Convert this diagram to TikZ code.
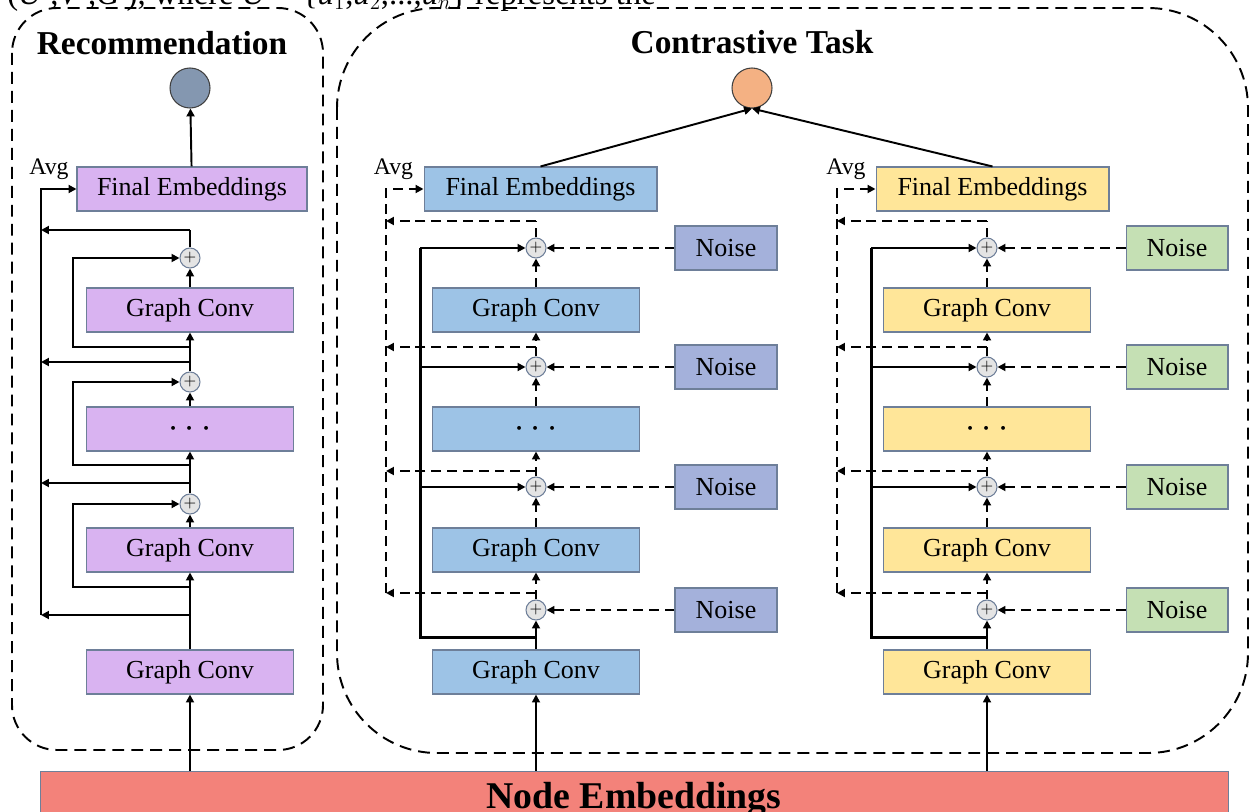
\documentclass[tikz,border=0pt]{standalone}
\usepackage{fontspec}
\setmainfont{Liberation Serif}
\usetikzlibrary{arrows.meta,calc,positioning}
\definecolor{Borde}{HTML}{6E7F99}
\definecolor{Lila}{HTML}{D9B3F1}
\definecolor{Celeste}{HTML}{9DC3E6}
\definecolor{Amarillo}{HTML}{FFE699}
\definecolor{RuidoAzul}{HTML}{A4B1DB}
\definecolor{RuidoVerde}{HTML}{C5E0B4}
\definecolor{GrisAzul}{HTML}{8497B0}
\definecolor{Naranja}{HTML}{F4B183}
\definecolor{Entrada}{HTML}{F3827A}
\definecolor{SumaGris}{HTML}{E4E4E4}

\begin{document}
\begin{tikzpicture}[
      x=0.02cm, y=-0.02cm,
      bloque/.style={rectangle, draw=Borde, line width=0.6pt, minimum width=4.14cm,
        minimum height=0.88cm, font=\fontsize{14.8}{17}\selectfont, inner sep=0pt},
      ruido/.style={bloque, minimum width=2.04cm},
      puntos/.style={bloque, font=\fontsize{20}{20}\selectfont},
      suma/.style={circle, draw=Borde, fill=SumaGris, line width=0.6pt,
        minimum size=0.4cm, inner sep=0pt, font=\fontsize{9}{9}\selectfont},
      salida/.style={circle, draw=black!75, line width=0.6pt, minimum size=0.8cm},
      panel/.style={line width=1.1pt, dash pattern=on 6.8pt off 4pt},
      flecha/.style={-{Triangle[length=4.5pt,width=4.5pt]}, line width=1.1pt},
      flechad/.style={flecha, dash pattern=on 5.6pt off 3.4pt},
      linead/.style={line width=1.1pt, dash pattern=on 5.6pt off 3.4pt},
      lazo/.style={line width=1.7pt},
      titulo/.style={font=\bfseries\fontsize{19}{22}\selectfont, inner sep=0pt},
      etiqueta/.style={font=\fontsize{13.5}{15}\selectfont, inner sep=0pt},
    ]
    \useasboundingbox (0,0) rectangle (1250,811);

    % page text cut by the crop
    \node[anchor=base west, inner sep=0pt, font=\fontsize{18.6}{21}\selectfont] (corte) at (7,5)
      {(\textit{U}$'$,\textit{V}$'$,\textit{G}$'$), where \textit{U} = \{\textit{u}$_1$,\textit{u}$_2$,...,\textit{u}$_n$\} represents the};

    % panels
    \draw[panel, rounded corners=0.9cm] (12,8) rectangle (323,750);
    \draw[panel, rounded corners=2cm] (337,8) rectangle (1248,753);
    \node[titulo] (tRec) at (162,43) {Recommendation};
    \node[titulo] (tCon) at (752,42) {Contrastive Task};

    \node[rectangle, draw=Borde, fill=Entrada, minimum width=23.76cm, minimum height=1.16cm,
      font=\bfseries\fontsize{21.5}{24}\selectfont, inner sep=0pt] (emb) at (634,800) {Node Embeddings};

    % recommendation branch
    \node[salida, fill=GrisAzul] (rOut) at (190,88) {};
    \node[bloque, fill=Lila, minimum width=4.6cm] (rFE) at (192,189) {Final Embeddings};
    \node[bloque, fill=Lila] (rGC1)  at (190,310) {Graph Conv};
    \node[puntos, fill=Lila] (rDots) at (190,429) {$\cdots$};
    \node[bloque, fill=Lila] (rGC2)  at (190,550) {Graph Conv};
    \node[bloque, fill=Lila] (rGC0)  at (190,672) {Graph Conv};
    \node[suma] (rP1) at (190,258) {$+$};
    \node[suma] (rP2) at (190,382) {$+$};
    \node[suma] (rP3) at (190,504) {$+$};
    \node[etiqueta] (rAvg) at (49,169) {Avg};
    \coordinate (rRail) at (41,189);
    \coordinate (rLoop) at (73,258);
    \coordinate (rA3) at (190,615);
    \coordinate (rL3) at (190,587);
    \coordinate (rA2) at (190,483);
    \coordinate (rL2) at (190,465);
    \coordinate (rA1) at (190,362);
    \coordinate (rL1) at (190,347);
    \coordinate (rT)  at (190,230);

    \draw[flecha] (rGC0.south |- emb.north) -- (rGC0.south);
    \draw[flecha] (rGC0) -- (rGC2);
    \draw[flecha] (rGC2) -- (rP3);
    \draw[flecha] (rP3) -- (rDots);
    \draw[flecha] (rDots) -- (rP2);
    \draw[flecha] (rP2) -- (rGC1);
    \draw[flecha] (rGC1) -- (rP1);
    \draw[line width=1.1pt] (rP1) -- (rT);
    \draw[lazo, flecha] (rL3) -- (rL3 -| rLoop) |- (rP3);
    \draw[lazo, flecha] (rL2) -- (rL2 -| rLoop) |- (rP2);
    \draw[lazo, flecha] (rL1) -- (rL1 -| rLoop) |- (rP1);
    \draw[flecha] (rA3) -- (rA3 -| rRail);
    \draw[flecha] (rA2) -- (rA2 -| rRail);
    \draw[flecha] (rA1) -- (rA1 -| rRail);
    \draw[flecha] (rT) -- (rT -| rRail);
    \draw[lazo, flecha] (rA3 -| rRail) -- (rRail) -- (rFE.west);
    \draw[flecha] (rFE) -- (rOut);

    % contrastive task
    \node[salida, fill=Naranja] (cOut) at (752,88) {};

    % first view
    \node[bloque, fill=Celeste, minimum width=4.66cm] (bFE) at (540.5,189) {Final Embeddings};
    \node[bloque, fill=Celeste] (bGC1)  at (536,310) {Graph Conv};
    \node[puntos, fill=Celeste] (bDots) at (536,429) {$\cdots$};
    \node[bloque, fill=Celeste] (bGC2)  at (536,550) {Graph Conv};
    \node[bloque, fill=Celeste] (bGC0)  at (536,672) {Graph Conv};
    \node[suma] (bP1) at (536,248) {$+$};
    \node[suma] (bP2) at (536,367) {$+$};
    \node[suma] (bP3) at (536,487) {$+$};
    \node[suma] (bP4) at (536,610) {$+$};
    \node[ruido, fill=RuidoAzul] (bN1) at (726,248) {Noise};
    \node[ruido, fill=RuidoAzul] (bN2) at (726,367) {Noise};
    \node[ruido, fill=RuidoAzul] (bN3) at (726,487) {Noise};
    \node[ruido, fill=RuidoAzul] (bN4) at (726,610) {Noise};
    \node[etiqueta] (bAvg) at (393.5,169) {Avg};
    \coordinate (bRail) at (420,248);
    \coordinate (bDash) at (386,189);
    \coordinate (bIn) at (536,637);
    \coordinate (bB4) at (536,593);
    \coordinate (bB3) at (536,471);
    \coordinate (bB2) at (536,347);
    \coordinate (bT)  at (536,221);

    \draw[flecha] (bGC0.south |- emb.north) -- (bGC0.south);
    \draw[flecha] (bGC0) -- (bP4);
    \draw[lazo] (bIn) -- (bIn -| bRail) -- (bRail);
    \draw[flecha] (bRail) -- (bP1);
    \draw[flecha] (bRail |- bP2) -- (bP2);
    \draw[flecha] (bRail |- bP3) -- (bP3);
    \draw[flechad] (bN1) -- (bP1);
    \draw[flechad] (bN2) -- (bP2);
    \draw[flechad] (bN3) -- (bP3);
    \draw[flechad] (bN4) -- (bP4);
    \draw[flechad] (bP4) -- (bGC2);
    \draw[flechad] (bGC2) -- (bP3);
    \draw[flechad] (bP3) -- (bDots);
    \draw[flechad] (bDots) -- (bP2);
    \draw[flechad] (bP2) -- (bGC1);
    \draw[flechad] (bGC1) -- (bP1);
    \draw[linead] (bP1) -- (bT);
    \draw[flechad] (bB4) -- (bB4 -| bDash);
    \draw[flechad] (bB3) -- (bB3 -| bDash);
    \draw[flechad] (bB2) -- (bB2 -| bDash);
    \draw[flechad] (bT) -- (bT -| bDash);
    \draw[flechad] (bB4 -| bDash) -- (bDash) -- (bFE.west);
    \draw[flecha] (bFE.north) -- (cOut.south);

    % second view
    \node[bloque, fill=Amarillo, minimum width=4.66cm] (yFE) at (992.5,189) {Final Embeddings};
    \node[bloque, fill=Amarillo] (yGC1)  at (987,310) {Graph Conv};
    \node[puntos, fill=Amarillo] (yDots) at (987,429) {$\cdots$};
    \node[bloque, fill=Amarillo] (yGC2)  at (987,550) {Graph Conv};
    \node[bloque, fill=Amarillo] (yGC0)  at (987,672) {Graph Conv};
    \node[suma] (yP1) at (987,248) {$+$};
    \node[suma] (yP2) at (987,367) {$+$};
    \node[suma] (yP3) at (987,487) {$+$};
    \node[suma] (yP4) at (987,610) {$+$};
    \node[ruido, fill=RuidoVerde] (yN1) at (1177,248) {Noise};
    \node[ruido, fill=RuidoVerde] (yN2) at (1177,367) {Noise};
    \node[ruido, fill=RuidoVerde] (yN3) at (1177,487) {Noise};
    \node[ruido, fill=RuidoVerde] (yN4) at (1177,610) {Noise};
    \node[etiqueta] (yAvg) at (846,169) {Avg};
    \coordinate (yRail) at (871,248);
    \coordinate (yDash) at (837,189);
    \coordinate (yIn) at (987,637);
    \coordinate (yB4) at (987,593);
    \coordinate (yB3) at (987,471);
    \coordinate (yB2) at (987,347);
    \coordinate (yT)  at (987,221);

    \draw[flecha] (yGC0.south |- emb.north) -- (yGC0.south);
    \draw[flecha] (yGC0) -- (yP4);
    \draw[lazo] (yIn) -- (yIn -| yRail) -- (yRail);
    \draw[flecha] (yRail) -- (yP1);
    \draw[flecha] (yRail |- yP2) -- (yP2);
    \draw[flecha] (yRail |- yP3) -- (yP3);
    \draw[flechad] (yN1) -- (yP1);
    \draw[flechad] (yN2) -- (yP2);
    \draw[flechad] (yN3) -- (yP3);
    \draw[flechad] (yN4) -- (yP4);
    \draw[flechad] (yP4) -- (yGC2);
    \draw[flechad] (yGC2) -- (yP3);
    \draw[flechad] (yP3) -- (yDots);
    \draw[flechad] (yDots) -- (yP2);
    \draw[flechad] (yP2) -- (yGC1);
    \draw[flechad] (yGC1) -- (yP1);
    \draw[linead] (yP1) -- (yT);
    \draw[flechad] (yB4) -- (yB4 -| yDash);
    \draw[flechad] (yB3) -- (yB3 -| yDash);
    \draw[flechad] (yB2) -- (yB2 -| yDash);
    \draw[flechad] (yT) -- (yT -| yDash);
    \draw[flechad] (yB4 -| yDash) -- (yDash) -- (yFE.west);
    \draw[flecha] (yFE.north) -- (cOut.south);

  \end{tikzpicture}
\end{document}
